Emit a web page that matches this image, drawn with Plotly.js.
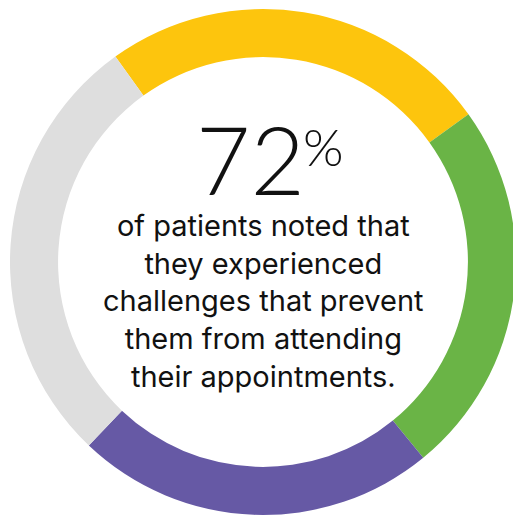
<!DOCTYPE html>
<html>
<head>
<meta charset="utf-8">
<script src="https://cdn.plot.ly/plotly-3.0.1.min.js"></script>
<style>
html,body{margin:0;padding:0;overflow:hidden;background:#fff;}
#chart{width:520px;height:517px;}
</style>
</head>
<body>
<div id="chart"></div>
<script>
const categories = ["Yellow", "Green", "Purple", "Gray"];
const values = [25, 24, 23, 28];
const colors = ["#FDC50D", "#6AB446", "#6659A5", "#DEDEDE"];
const bigNumber = "72";
const bigSuffix = "%";
const caption = "of patients noted that<br>they experienced<br>challenges that prevent<br>them from attending<br>their appointments.";

const trace = {
  type: "pie",
  labels: categories,
  values: values,
  marker: {colors: colors, line: {width: 0}},
  hole: 0.81,
  sort: false,
  direction: "clockwise",
  rotation: -35.7,
  textinfo: "none",
  hoverinfo: "none",
  showlegend: false
};

const layout = {
  width: 520,
  height: 517,
  margin: {l: 10, r: 4, t: 9, b: 2, pad: 0},
  paper_bgcolor: "#ffffff",
  plot_bgcolor: "#ffffff",
  showlegend: false,
  annotations: [
    {text: bigNumber, xref: "paper", yref: "paper", x: 0.475, y: 0.705,
     xanchor: "center", yanchor: "middle", showarrow: false,
     font: {family: "Lato, sans-serif", size: 94, color: "#111111", weight: 300}},
    {text: bigSuffix, xref: "paper", yref: "paper", x: 0.6196, y: 0.729,
     xanchor: "center", yanchor: "middle", showarrow: false,
     font: {family: "Lato, sans-serif", size: 52, color: "#111111", weight: 300}},
    {text: caption, xref: "paper", yref: "paper", x: 0.5, y: 0.422,
     xanchor: "center", yanchor: "middle", align: "center", showarrow: false,
     font: {family: "Inter, sans-serif", size: 29, color: "#111111", weight: 400}}
  ]
};

Plotly.newPlot("chart", [trace], layout, {displayModeBar: false, staticPlot: true});
</script>
</body>
</html>
